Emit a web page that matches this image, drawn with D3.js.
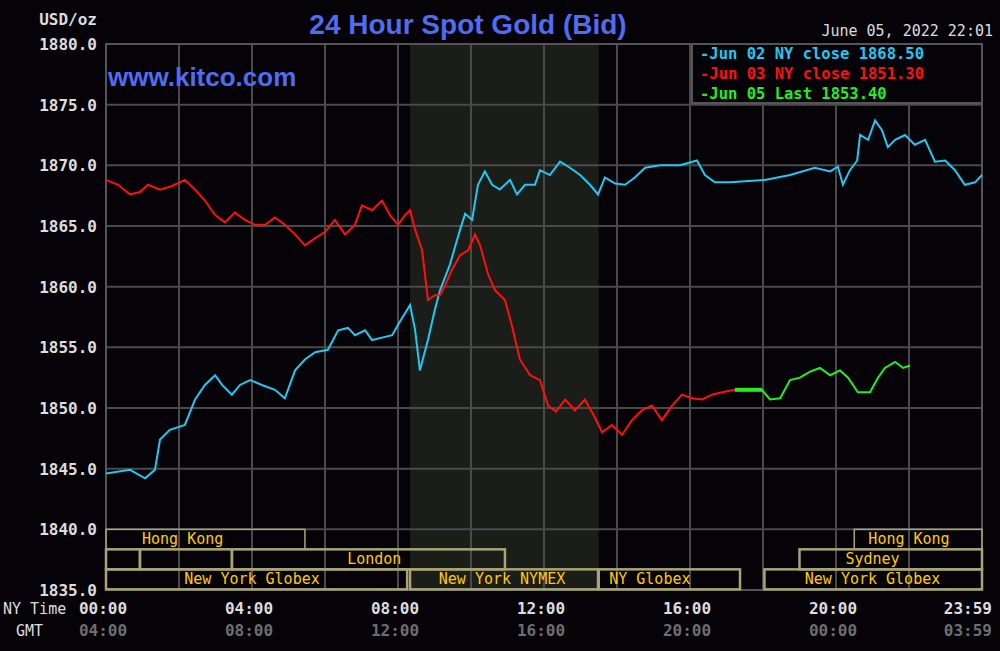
<!DOCTYPE html><html><head><meta charset="utf-8">
<script src="https://cdn.jsdelivr.net/npm/d3@7"></script>
<style>body{margin:0;background:#050308}svg{display:block}</style></head><body>
<svg id="c" width="1000" height="651"></svg>
<script>
const yTicks=[1880,1875,1870,1865,1860,1855,1850,1845,1840,1835];
const xTickHours=[0,4,8,12,16,20,23.983];
const nyLabels=["00:00","04:00","08:00","12:00","16:00","20:00","23:59"];
const gmtLabels=["04:00","08:00","12:00","16:00","20:00","00:00","03:59"];
const legendLabels=["Jun 02 NY close 1868.50","Jun 03 NY close 1851.30","Jun 05 Last 1853.40"];
const jun02=[[0,1844.6],[0.66,1844.9],[1.07,1844.2],[1.34,1844.9],[1.48,1847.4],[1.75,1848.2],[2.16,1848.6],[2.44,1850.7],[2.71,1851.9],[2.99,1852.7],[3.18,1851.9],[3.45,1851.1],[3.67,1851.9],[3.95,1852.3],[4.27,1851.9],[4.63,1851.5],[4.9,1850.8],[5.18,1853.1],[5.45,1854.0],[5.73,1854.6],[6.08,1854.8],[6.36,1856.4],[6.63,1856.6],[6.82,1856.0],[7.1,1856.4],[7.29,1855.6],[7.56,1855.8],[7.84,1856.0],[8.05,1857.1],[8.33,1858.5],[8.47,1856.4],[8.6,1853.1],[8.82,1855.6],[9.01,1858.1],[9.15,1859.7],[9.42,1861.8],[9.7,1864.7],[9.84,1866.0],[10.03,1865.5],[10.19,1868.4],[10.38,1869.5],[10.58,1868.4],[10.79,1868.0],[11.07,1868.8],[11.26,1867.6],[11.48,1868.4],[11.75,1868.4],[11.89,1869.6],[12.16,1869.2],[12.44,1870.3],[12.71,1869.8],[12.99,1869.2],[13.26,1868.4],[13.48,1867.6],[13.67,1869.0],[13.95,1868.5],[14.22,1868.4],[14.49,1869.0],[14.77,1869.8],[15.18,1870.0],[15.73,1870.0],[16.19,1870.4],[16.41,1869.2],[16.68,1868.6],[17.1,1868.6],[18.05,1868.8],[18.74,1869.2],[19.42,1869.8],[19.84,1869.5],[20.05,1869.9],[20.19,1868.4],[20.38,1869.6],[20.58,1870.4],[20.66,1872.5],[20.88,1872.1],[21.07,1873.7],[21.26,1872.9],[21.42,1871.5],[21.62,1872.1],[21.89,1872.5],[22.16,1871.7],[22.44,1872.1],[22.71,1870.3],[22.99,1870.4],[23.26,1869.6],[23.53,1868.4],[23.81,1868.6],[24,1869.2]];
const jun03=[[0,1868.8],[0.33,1868.4],[0.66,1867.6],[0.93,1867.8],[1.15,1868.4],[1.48,1868.0],[1.81,1868.3],[2.16,1868.8],[2.44,1868.0],[2.71,1867.1],[2.99,1865.9],[3.26,1865.3],[3.53,1866.1],[3.81,1865.5],[4.08,1865.1],[4.36,1865.1],[4.63,1865.7],[4.9,1865.1],[5.18,1864.3],[5.45,1863.4],[5.73,1864.0],[6.0,1864.5],[6.27,1865.5],[6.55,1864.3],[6.82,1865.1],[7.01,1866.7],[7.29,1866.3],[7.56,1867.1],[7.78,1865.9],[8.0,1865.1],[8.19,1865.9],[8.33,1866.3],[8.47,1864.7],[8.66,1863.0],[8.82,1858.9],[9.01,1859.3],[9.15,1859.3],[9.29,1860.1],[9.48,1861.4],[9.7,1862.6],[9.92,1863.0],[10.11,1864.3],[10.25,1863.4],[10.47,1861.0],[10.66,1859.7],[10.93,1858.9],[11.12,1856.8],[11.34,1854.0],[11.62,1852.7],[11.89,1852.3],[12.11,1850.2],[12.33,1849.7],[12.58,1850.7],[12.85,1849.8],[13.12,1850.7],[13.4,1849.2],[13.59,1848.0],[13.86,1848.6],[14.14,1847.8],[14.41,1849.0],[14.68,1849.8],[14.96,1850.2],[15.23,1849.0],[15.51,1850.2],[15.78,1851.1],[16.05,1850.8],[16.33,1850.7],[16.6,1851.1],[16.88,1851.3],[17.23,1851.5]];
const jun05=[[17.23,1851.5],[17.97,1851.5],[18.19,1850.7],[18.47,1850.8],[18.74,1852.3],[19.01,1852.5],[19.29,1853.0],[19.56,1853.3],[19.84,1852.7],[20.11,1853.1],[20.33,1852.5],[20.6,1851.3],[20.93,1851.3],[21.15,1852.5],[21.34,1853.3],[21.62,1853.8],[21.84,1853.3],[22.03,1853.5]];
// sessions: [row, startHour, endHour, label, labelCentreHour]
const sessions=[[0,0,5.45,"Hong Kong",2.1],[0,20.5,24,"Hong Kong",22.0],[1,0,0.93,"",null],[1,0.93,3.45,"",null],[1,3.45,10.93,"London",7.35],[1,19.0,24,"Sydney",21.0],[2,0,8.25,"New York Globex",4.0],[2,8.33,13.48,"New York NYMEX",10.85],[2,13.5,17.37,"NY Globex",14.9],[2,18.04,24,"New York Globex",21.0]];

const svg=d3.select("#c");
const L=106,R=982,T=44,B=590;
const x=d3.scaleLinear().domain([0,24]).range([L,R]);
const y=d3.scaleLinear().domain([1835,1880]).range([B,T]);
const mono="'DejaVu Sans Mono',monospace";
svg.append("rect").attr("x",x(8.33)).attr("y",T).attr("width",x(13.5)-x(8.33)).attr("height",B-T).attr("fill","#1b1d19");
svg.append("g").selectAll("line").data(yTicks).join("line").attr("x1",L).attr("x2",R).attr("y1",d=>y(d)).attr("y2",d=>y(d)).attr("stroke","#4a4a4a").attr("stroke-width",2);
svg.append("g").selectAll("line").data(d3.range(2,24,2)).join("line").attr("y1",T).attr("y2",B).attr("x1",d=>x(d)).attr("x2",d=>x(d)).attr("stroke","#4a4a4a").attr("stroke-width",2);
svg.append("rect").attr("x",L).attr("y",T).attr("width",R-L).attr("height",B-T).attr("fill","none").attr("stroke","#555").attr("stroke-width",2);
const rowY=[y(1840),y(1840)+20,y(1840)+40], rowH=20;
const sg=svg.append("g");
sessions.forEach(s=>{
  const x0=x(s[1]),x1=x(s[2]),y0=rowY[s[0]];
  sg.append("rect").attr("x",x0).attr("y",y0).attr("width",x1-x0).attr("height",rowH).attr("fill","none").attr("stroke","#a8a474").attr("stroke-width",s[0]==0?1.5:2.5);
  if(s[3]) sg.append("text").attr("x",x(s[4])).attr("y",y0+15).attr("text-anchor","middle").attr("fill","#ffcc00").attr("font-family",mono).attr("font-size",15).text(s[3]);
});
const line=d3.line().x(d=>x(d[0])).y(d=>y(d[1]));
[[jun02,"#22c8f0"],[jun03,"#ff1010"],[jun05,"#22ee22"]].forEach(([d,c])=>svg.append("path").datum(d).attr("d",line).attr("fill","none").attr("stroke",c).attr("stroke-width",2));
svg.append("path").datum(jun05.slice(0,2)).attr("d",line).attr("stroke","#22ee22").attr("stroke-width",4);
svg.append("g").selectAll("text").data(yTicks).join("text").attr("x",97).attr("y",d=>y(d)+6).attr("text-anchor","end").attr("fill","#dddddd").attr("font-family",mono).attr("font-weight","bold").attr("font-size",16).text(d=>d.toFixed(1));
svg.append("text").attr("x",97).attr("y",25).attr("text-anchor","end").attr("fill","#dddddd").attr("font-family",mono).attr("font-weight","bold").attr("font-size",16).text("USD/oz");
const last=xTickHours.length-1;
svg.append("g").selectAll("text").data(xTickHours).join("text").attr("x",(d,i)=>i==last?992:x(d)-3).attr("y",614).attr("text-anchor",(d,i)=>i==last?"end":"middle").attr("fill","#dddddd").attr("font-family",mono).attr("font-weight","bold").attr("font-size",16).text((d,i)=>nyLabels[i]);
svg.append("g").selectAll("text").data(xTickHours).join("text").attr("x",(d,i)=>i==last?992:x(d)-3).attr("y",636).attr("text-anchor",(d,i)=>i==last?"end":"middle").attr("fill","#6e6e6e").attr("font-family",mono).attr("font-weight","bold").attr("font-size",16).text((d,i)=>gmtLabels[i]);
svg.append("text").attr("x",3).attr("y",614).attr("fill","#dddddd").attr("font-family",mono).attr("font-size",15).text("NY Time");
svg.append("text").attr("x",16).attr("y",636).attr("fill","#dddddd").attr("font-family",mono).attr("font-size",15).text("GMT");
svg.append("text").attr("x",468).attr("y",34).attr("text-anchor","middle").attr("fill","#4f6cf2").attr("font-family","Liberation Sans,Arial").attr("font-weight","bold").attr("font-size",28).text("24 Hour Spot Gold (Bid)");
svg.append("text").attr("x",108).attr("y",86).attr("fill","#4f6cf2").attr("font-family","Liberation Sans,Arial").attr("font-weight","bold").attr("font-size",26).text("www.kitco.com");
svg.append("text").attr("x",993).attr("y",36).attr("text-anchor","end").attr("fill","#dddddd").attr("font-family",mono).attr("font-size",15).text("June 05, 2022 22:01");
svg.append("rect").attr("x",692).attr("y",T).attr("width",R-692).attr("height",59).attr("fill","#050308").attr("stroke","#555").attr("stroke-width",2);
const lc=["#22c8f0","#ff1010","#22ee22"];
legendLabels.forEach((t,i)=>svg.append("text").attr("x",700).attr("y",59+i*20).attr("fill",lc[i]).attr("font-family",mono).attr("font-weight","bold").attr("font-size",15.5).text("-"+t));
</script></body></html>
